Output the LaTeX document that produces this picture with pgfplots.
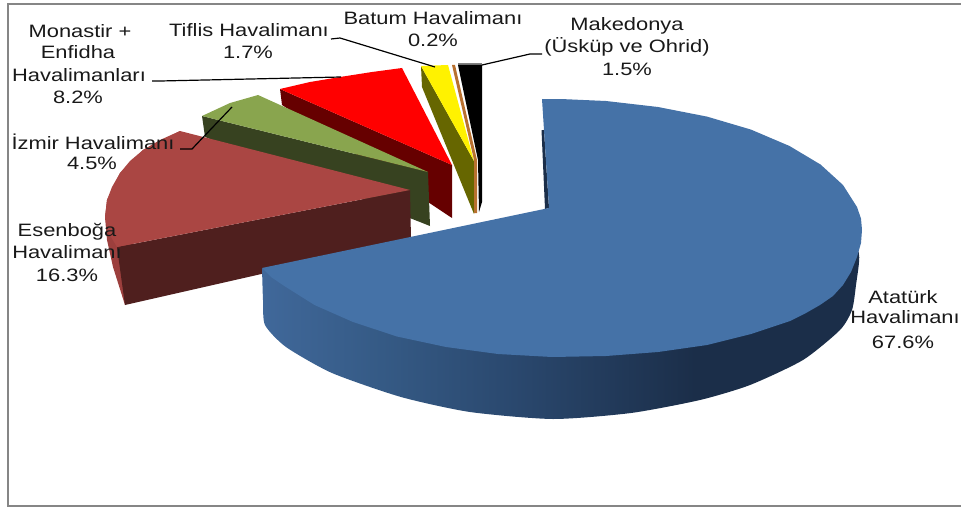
\documentclass[border=0pt]{standalone}
\usepackage{fontspec}
\setmainfont[FakeStretch=1.22]{Liberation Sans}
\usepackage{pgfplots}
\pgfplotsset{compat=1.18}
\definecolor{b0}{HTML}{40689A}
\definecolor{b1}{HTML}{355A85}
\definecolor{b2}{HTML}{2A486E}
\definecolor{b3}{HTML}{1B2E49}
\definecolor{btop}{HTML}{4572A7}
\definecolor{brtop}{HTML}{AA4643}
\definecolor{brside}{HTML}{4F1F1E}
\definecolor{brout}{HTML}{9C3F3D}
\definecolor{grtop}{HTML}{89A54E}
\definecolor{grside}{HTML}{374220}
\definecolor{redside}{HTML}{660000}
\definecolor{olive2}{HTML}{666600}
\definecolor{orng}{HTML}{B8702F}
\definecolor{frame}{HTML}{868686}
\pgfdeclarehorizontalshading{bluefade}{100bp}{color(0bp)=(b0); color(25bp)=(b0); color(35bp)=(b1); color(46bp)=(b2); color(61bp)=(b3); color(100bp)=(b3)}
\begin{document}
\begin{tikzpicture}
\begin{axis}[
  scale only axis, width=961bp, height=507bp,
  xmin=0, xmax=961, ymin=0, ymax=507, y dir=reverse,
  hide axis, clip mode=individual,
  nodes={font=\fontsize{18}{20}\selectfont, inner sep=0pt, text=black!90},
  every axis plot/.append style={no markers, solid},
]
% frame
\addplot[draw=frame, line width=2bp] coordinates {(961,4) (7.5,4) (7.5,505.5) (961,505.5)};
% Monastir + Enfidha (red)
\addplot[fill=redside, draw=none] coordinates {(280,89) (452,165) (452,218) (282,105)} --cycle;
\addplot[fill=red, draw=none] coordinates {(280,89) (310,82) (340,77) (372,72) (402,68) (452,165)} --cycle;
% Izmir (green)
\addplot[fill=grside, draw=none] coordinates {(202,116) (428,172) (430,226) (205,137)} --cycle;
\addplot[fill=grtop, draw=none] coordinates {(202,116) (230,103) (258,95) (428,172)} --cycle;
% Esenboga (brown)
\addplot[fill=brout, draw=none] coordinates {(180,131) (143,150) (120,173) (107,200) (105,217) (107,240) (113,267) (125,305) (130,250)} --cycle;
\addplot[fill=brside, draw=none] coordinates {(117,247) (410,190) (411,240) (125,305)} --cycle;
\addplot[fill=brtop, draw=none] coordinates {(180,131) (160,140) (143,150) (130,161) (120,173) (112,187) (107,200) (105,217) (108,232) (117,247) (410,190)} --cycle;
% Tiflis (yellow)
\addplot[fill=olive2, draw=none] coordinates {(421,66) (474,161) (474,214) (422,87)} --cycle;
\addplot[fill=yellow, draw=none] coordinates {(421,66) (448,65) (474,161)} --cycle;
% Batum (orange)
\addplot[fill=orng, draw=none] coordinates {(452,65) (455,65) (477,160) (477,213) (474,213) (474,160)} --cycle;
% Makedonya (black)
\addplot[fill=gray, draw=none] coordinates {(458,63) (482,63) (482,66) (458,66)} --cycle;
\addplot[fill=black, draw=none] coordinates {(458,65) (482,65) (482,202) (479,212) (478,160)} --cycle;
% Ataturk (blue)
\addplot[shading=bluefade, draw=none, smooth, tension=0.4] coordinates {(262,268) (263,300) (265,325) (286,347) (332,373) (401,397) (470,412) (553,419) (631,413) (700,400) (750,385) (803,360) (840,330) (852,310) (856,285) (859,255) (845,250) (700,250) (400,270) (300,285) (262,268)};
\addplot[fill=b3, draw=none] coordinates {(541.5,130) (544,130) (549,208) (545,209)} --cycle;
\addplot[fill=btop, draw=none] coordinates {(542,99) (563,99.1) (606,101) (658,107) (707,116.6) (751,129.6) (789.5,146) (820.5,164.5) (843,185) (857,207) (861,218.6) (862,230) (861,243) (857,257) (851,272) (843,285) (833,296) (820,305) (806,313) (790,321) (751,334) (707,345) (658,352) (606,356) (552,357) (498,354) (446,347) (397,336.5) (353,322) (314.5,305) (283.5,285.5) (271,277) (264.6,270.6) (262,268) (549,208)} --cycle;
% leaders
\addplot[black, line width=1.2bp] coordinates {(331,39) (340,38) (435,67)};
\addplot[black, line width=1.2bp] coordinates {(482,65) (530,54) (542,54)};
\addplot[black, line width=1.2bp] coordinates {(152,81) (160,81) (341,77)};
\addplot[black, line width=1.2bp] coordinates {(180,149) (192,149) (232,107)};
% labels
\node at (axis cs:80,31) {Monastir +};
\node at (axis cs:78,52) {Enfidha};
\node at (axis cs:79,75) {Havalimanları};
\node at (axis cs:78,97) {8.2\%};
\node at (axis cs:249,30) {Tiflis Havalimanı};
\node at (axis cs:248,52) {1.7\%};
\node at (axis cs:433,18) {Batum Havalimanı};
\node at (axis cs:433,40) {0.2\%};
\node at (axis cs:627,26) {Makedonya};
\node at (axis cs:627,47) {(Üsküp ve Ohrid)};
\node at (axis cs:627,69) {1.5\%};
\node at (axis cs:93,142) {İzmir Havalimanı};
\node at (axis cs:92,163) {4.5\%};
\node at (axis cs:67,232) {Esenboğa};
\node at (axis cs:67,252) {Havalimanı};
\node at (axis cs:67,275) {16.3\%};
\node at (axis cs:903,297) {Atatürk};
\node at (axis cs:905,317) {Havalimanı};
\node at (axis cs:903,342) {67.6\%};
\end{axis}
\pgfresetboundingbox
\path[use as bounding box] (0,0) rectangle (961bp,507bp);
\end{tikzpicture}
\end{document}
